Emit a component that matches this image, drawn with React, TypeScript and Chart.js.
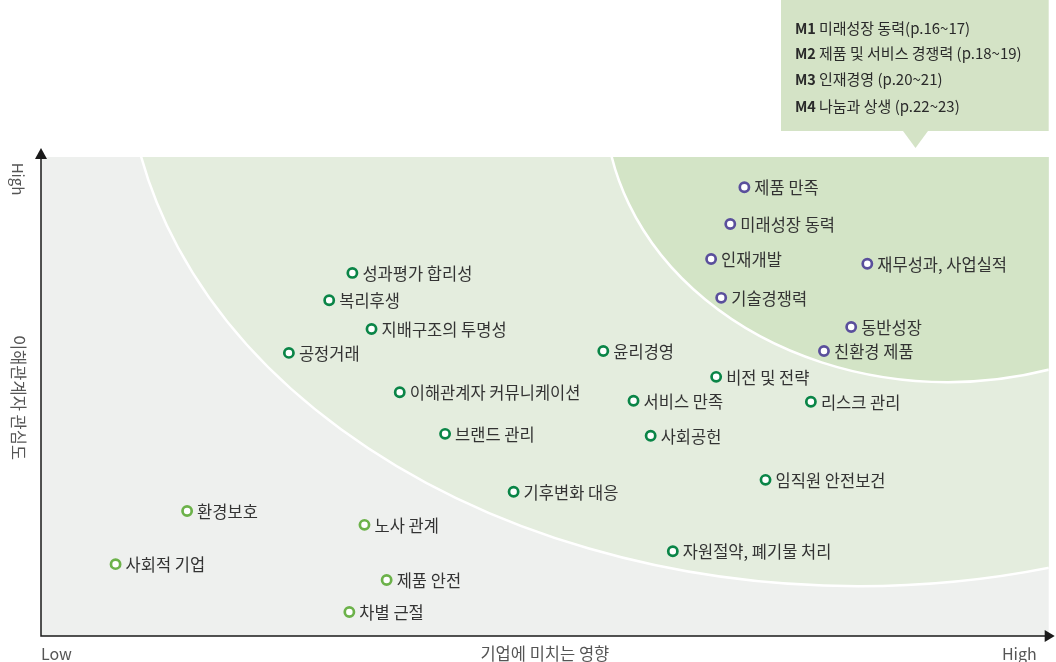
import React, { useEffect, useRef } from "react";
import { Chart, registerables } from "chart.js";

Chart.register(...registerables);

// ---- Data (x: 기업에 미치는 영향, y: 이해관계자 관심도, 0..100) ----
const highLabels = ["제품 만족", "미래성장 동력", "인재개발", "재무성과, 사업실적", "기술경쟁력", "동반성장", "친환경 제품"];
const highX = [69.8, 68.4, 66.5, 82.0, 67.5, 80.4, 77.7];
const highY = [93.7, 86.0, 78.7, 77.7, 70.6, 64.5, 59.5];

const midLabels = [
  "성과평가 합리성", "복리후생", "지배구조의 투명성", "공정거래", "윤리경영",
  "이해관계자 커뮤니케이션", "비전 및 전략", "서비스 만족", "리스크 관리", "브랜드 관리",
  "사회공헌", "임직원 안전보건", "기후변화 대응", "자원절약, 폐기물 처리",
];
const midX = [30.9, 28.6, 32.8, 24.6, 55.8, 35.6, 67.0, 58.8, 76.4, 40.1, 60.5, 71.9, 46.9, 62.7];
const midY = [75.8, 70.1, 64.1, 59.1, 59.5, 50.9, 54.1, 49.1, 48.9, 42.2, 41.8, 32.6, 30.1, 17.7];

const lowLabels = ["환경보호", "사회적 기업", "노사 관계", "제품 안전", "차별 근절"];
const lowX = [14.5, 7.4, 32.1, 34.3, 30.6];
const lowY = [26.1, 15.0, 23.2, 11.7, 5.0];

// zones: [centerX, centerY, radiusX, radiusY] in data units
const zoneMid = [81.1, 122.3, 72.6, 111.9];
const zoneHigh = [90.0, 111.9, 34.06, 58.9];

const legendKeys = ["M1", "M2", "M3", "M4"];
const legendTexts = ["미래성장 동력(p.16~17)", "제품 및 서비스 경쟁력 (p.18~19)", "인재경영 (p.20~21)", "나눔과 상생 (p.22~23)"];

const xAxisTitle = "기업에 미치는 영향";
const yAxisTitle = "이해관계자 관심도";
const lowText = "Low";
const highText = "High";

const FONT = "'Noto Sans CJK KR', 'Noto Sans', sans-serif";

const toPts = (xs: number[], ys: number[]) => xs.map((v, i) => ({ x: v, y: ys[i] }));

const bgPlugin = {
  id: "bgZones",
  beforeDatasetsDraw(chart: any) {
    const { ctx, chartArea, scales } = chart;
    const { left, top, right, bottom } = chartArea;
    const xs = scales.x;
    const ys = scales.y;
    ctx.save();
    ctx.fillStyle = "#eef0ee";
    ctx.fillRect(left, top, right - left, bottom - top);
    ctx.beginPath();
    ctx.rect(left, top, right - left, bottom - top);
    ctx.clip();
    const drawZone = (z: number[], fill: string) => {
      const cx = xs.getPixelForValue(z[0]);
      const cy = ys.getPixelForValue(z[1]);
      const rx = Math.abs(xs.getPixelForValue(z[0] + z[2]) - cx);
      const ry = Math.abs(ys.getPixelForValue(z[1] + z[3]) - cy);
      ctx.beginPath();
      ctx.ellipse(cx, cy, rx, ry, 0, 0, Math.PI * 2);
      ctx.fillStyle = fill;
      ctx.fill();
      ctx.strokeStyle = "#ffffff";
      ctx.lineWidth = 2.5;
      ctx.stroke();
    };
    drawZone(zoneMid, "#e4edde");
    drawZone(zoneHigh, "#d3e4c6");
    ctx.restore();

    // axes
    ctx.save();
    ctx.strokeStyle = "#1a1a1a";
    ctx.fillStyle = "#1a1a1a";
    ctx.lineWidth = 1.5;
    ctx.beginPath();
    ctx.moveTo(left, top - 4);
    ctx.lineTo(left, bottom);
    ctx.lineTo(right + 2, bottom);
    ctx.stroke();
    // up arrow
    ctx.beginPath();
    ctx.moveTo(left, top - 9);
    ctx.lineTo(left - 6, top + 2);
    ctx.lineTo(left + 6, top + 2);
    ctx.closePath();
    ctx.fill();
    // right arrow
    ctx.beginPath();
    ctx.moveTo(right + 6, bottom);
    ctx.lineTo(right - 4, bottom - 6);
    ctx.lineTo(right - 4, bottom + 6);
    ctx.closePath();
    ctx.fill();

    // axis texts
    ctx.fillStyle = "#555555";
    ctx.textBaseline = "middle";
    ctx.font = `16px ${FONT}`;
    ctx.textAlign = "left";
    ctx.fillText(lowText, left, bottom + 18);
    ctx.textAlign = "right";
    ctx.fillText(highText, right - 12, bottom + 18);
    ctx.textAlign = "center";
    ctx.font = `16.5px ${FONT}`;
    ctx.fillText(xAxisTitle, (left + right) / 2, bottom + 18);
    ctx.font = `15px ${FONT}`;
    ctx.save();
    ctx.translate(18, top + 22);
    ctx.rotate(Math.PI / 2);
    ctx.fillText(highText, 0, 0);
    ctx.restore();
    ctx.font = `16.5px ${FONT}`;
    ctx.save();
    ctx.translate(18, (top + bottom) / 2 + 1);
    ctx.rotate(Math.PI / 2);
    ctx.fillText(yAxisTitle, 0, 0);
    ctx.restore();
    ctx.restore();
  },
  afterDatasetsDraw(chart: any) {
    const { ctx } = chart;
    ctx.save();
    ctx.font = `16.5px ${FONT}`;
    ctx.fillStyle = "#333333";
    ctx.textBaseline = "middle";
    ctx.textAlign = "left";
    chart.data.datasets.forEach((ds: any, di: number) => {
      const meta = chart.getDatasetMeta(di);
      meta.data.forEach((el: any, i: number) => {
        ctx.fillText(ds.labels[i], el.x + 10, el.y + 1);
      });
    });
    ctx.restore();
  },
  afterDraw(chart: any) {
    const { ctx, chartArea } = chart;
    const right = chartArea.right;
    const bx = 781;
    ctx.save();
    ctx.fillStyle = "#d4e3c6";
    ctx.fillRect(bx, 0, right - bx, 131);
    ctx.beginPath();
    ctx.moveTo(903, 131);
    ctx.lineTo(928, 131);
    ctx.lineTo(915.5, 148);
    ctx.closePath();
    ctx.fill();
    ctx.textBaseline = "middle";
    ctx.textAlign = "left";
    ctx.fillStyle = "#2a2a2a";
    const rows = [28, 53, 79, 106];
    legendKeys.forEach((k, i) => {
      ctx.font = `bold 14.5px ${FONT}`;
      ctx.fillText(k, 795, rows[i]);
      const w = ctx.measureText(k).width;
      ctx.font = `15px ${FONT}`;
      ctx.fillText(legendTexts[i], 795 + w + 3, rows[i]);
    });
    ctx.restore();
  },
};

export default function App() {
  const ref = useRef<HTMLCanvasElement | null>(null);
  useEffect(() => {
    if (!ref.current) return;
    const mk = (labels: string[], xs: number[], ys: number[], color: string) => ({
      labels,
      data: toPts(xs, ys),
      pointStyle: "circle",
      pointRadius: 4.6,
      pointHoverRadius: 4.6,
      pointBorderWidth: 2.7,
      pointBackgroundColor: "#ffffff",
      pointBorderColor: color,
      showLine: false,
    });
    const chart = new Chart(ref.current, {
      type: "scatter",
      data: {
        datasets: [
          mk(highLabels, highX, highY, "#5a4f9c") as any,
          mk(midLabels, midX, midY, "#0a8547") as any,
          mk(lowLabels, lowX, lowY, "#6cb24a") as any,
        ],
      },
      options: {
        responsive: false,
        animation: false,
        layout: { padding: { left: 41, top: 157, right: 5, bottom: 26 } },
        scales: {
          x: { type: "linear", min: 0, max: 100, display: false },
          y: { type: "linear", min: 0, max: 100, display: false },
        },
        plugins: { legend: { display: false }, tooltip: { enabled: false } },
      },
      plugins: [bgPlugin],
    });
    return () => chart.destroy();
  }, []);
  return (
    <div style={{ position: "absolute", left: 0, top: 0, width: 1056, height: 662, background: "#fff" }}>
      <canvas ref={ref} width={1056} height={662} style={{ display: "block" }} />
    </div>
  );
}
